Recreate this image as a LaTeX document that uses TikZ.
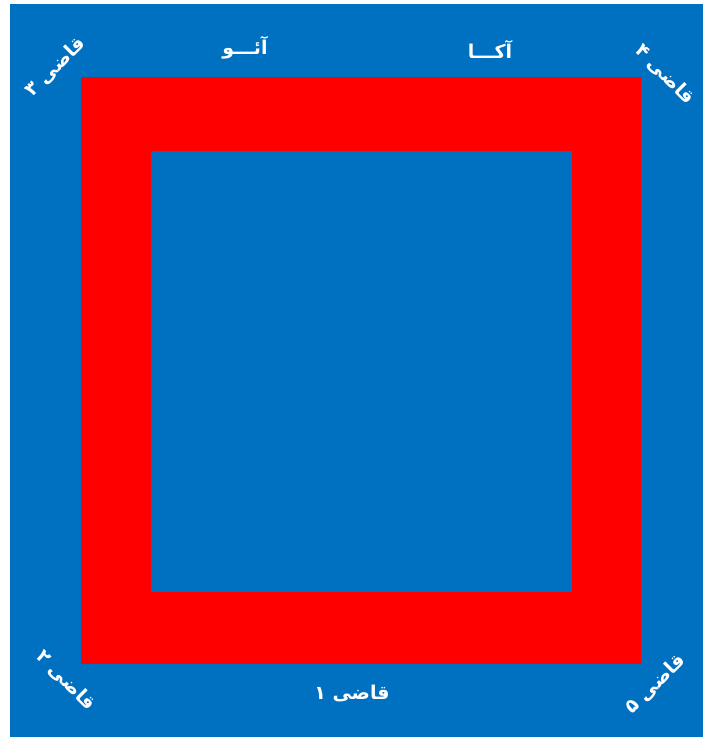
\documentclass[tikz,border=0pt]{standalone}
\usepackage{fontspec}
\newfontfamily\arabicfont[Script=Arabic]{DejaVu Sans}
\TeXXeTstate=1
\definecolor{mblue}{RGB}{0,112,192}
\definecolor{mred}{RGB}{255,0,0}
\begin{document}
\begin{tikzpicture}[x=1pt,y=1pt,
  lbl/.style={text=white,font=\arabicfont\bfseries\fontsize{19}{22}\selectfont,inner sep=0pt}]
\useasboundingbox (0,0) rectangle (703,737);
\fill[white] (0,0) rectangle (703,737);
\fill[mblue] (10,0) rectangle (703,733);
\fill[mred] (81,73) rectangle (641,660);
\fill[mblue] (151,145) rectangle (572,586);
\node[lbl] (ao) at (245,689) {\beginR آئـــو\endR};
\node[lbl] (aka) at (490,688) {\beginR آکـــا\endR};
\node[lbl,rotate=45] (q3) at (55,670) {\beginR قاضی ۳\endR};
\node[lbl,rotate=-45] (q4) at (665,663) {\beginR قاضی ۴\endR};
\node[lbl,rotate=-45] (q2) at (66,57) {\beginR قاضی ۲\endR};
\node[lbl,rotate=45] (q5) at (655,53) {\beginR قاضی ۵\endR};
\node[lbl] (q1) at (352,44) {\beginR قاضی ۱\endR};
\end{tikzpicture}
\end{document}
